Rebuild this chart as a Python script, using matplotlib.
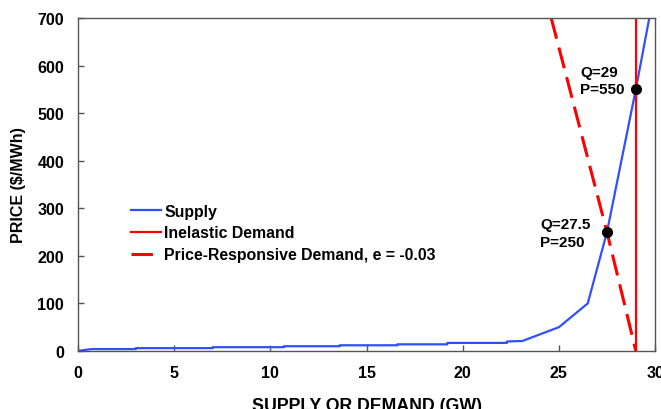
import matplotlib.pyplot as plt

# Supply curve (GW, $/MWh)
supply_q = [0, 0.3, 0.7, 3, 3, 7, 7, 10.7, 10.7, 13.6, 13.6, 16.6, 16.6, 19.2, 19.2, 22.3, 22.3, 23.1, 25, 26.5, 27.5, 29, 29.7]
supply_p = [0, 2, 4, 4, 6, 6, 8, 8, 10, 10, 12, 12, 14, 14, 17, 17, 20, 21, 50, 100, 250, 550, 700]

# Inelastic demand
inelastic_q = [29, 29]
inelastic_p = [0, 700]

# Price-responsive demand
responsive_q = [24.6, 27.5, 29]
responsive_p = [700, 250, 0]

# Equilibrium points and their labels (label anchor = left / centre of block)
eq_q = [27.5, 29]
eq_p = [250, 550]
eq_labels = ['Q=27.5\nP=250', 'Q=29\nP=550']
label_q = [24.02, 26.1]
label_p = [248, 568]

plt.rcParams['font.family'] = ['Liberation Sans', 'DejaVu Sans']
plt.rcParams['font.weight'] = 'bold'

fig = plt.figure(figsize=(6.61, 4.10), dpi=100)
ax = fig.add_axes([0.118, 0.1415, 0.873, 0.8122])

ax.plot(supply_q, supply_p, color='#3050ff', lw=1.6, label='Supply')
ax.plot(inelastic_q, inelastic_p, color='#ff0000', lw=1.6, label='Inelastic Demand')
ax.plot(responsive_q, responsive_p, color='#ff0000', lw=2.2, dashes=(7, 3),
        label='Price-Responsive Demand, e = -0.03')
ax.plot(eq_q, eq_p, 'o', color='black', ms=7, zorder=5)

for q, p, lab in zip(label_q, label_p, eq_labels):
    ax.text(q, p, lab, ha='left', va='center', fontsize=11,
            fontweight='bold', linespacing=1.3)

ax.set_xlim(0, 30)
ax.set_ylim(0, 700)
ax.set_xticks([0, 5, 10, 15, 20, 25, 30])
ax.set_yticks([0, 100, 200, 300, 400, 500, 600, 700])
ax.tick_params(direction='in', length=4, width=1, color='#555555',
               labelsize=11.5, pad=10)
for lab in ax.get_xticklabels() + ax.get_yticklabels():
    lab.set_fontweight('bold')
for s in ax.spines.values():
    s.set_color('#555555')
    s.set_linewidth(1)

ax.set_xlabel('SUPPLY OR DEMAND (GW)', fontsize=12.8, fontweight='bold', labelpad=12)
ax.set_ylabel('PRICE ($/MWh)', fontsize=11.5, fontweight='bold', labelpad=8)

leg = ax.legend(loc='upper left', bbox_to_anchor=(0.092, 0.442), frameon=False,
                fontsize=11.4, handlelength=1.9, handletextpad=0.2,
                borderpad=0, borderaxespad=0, labelspacing=0.42)
for t in leg.get_texts():
    t.set_fontweight('bold')

fig.savefig('out.png', dpi=100)
